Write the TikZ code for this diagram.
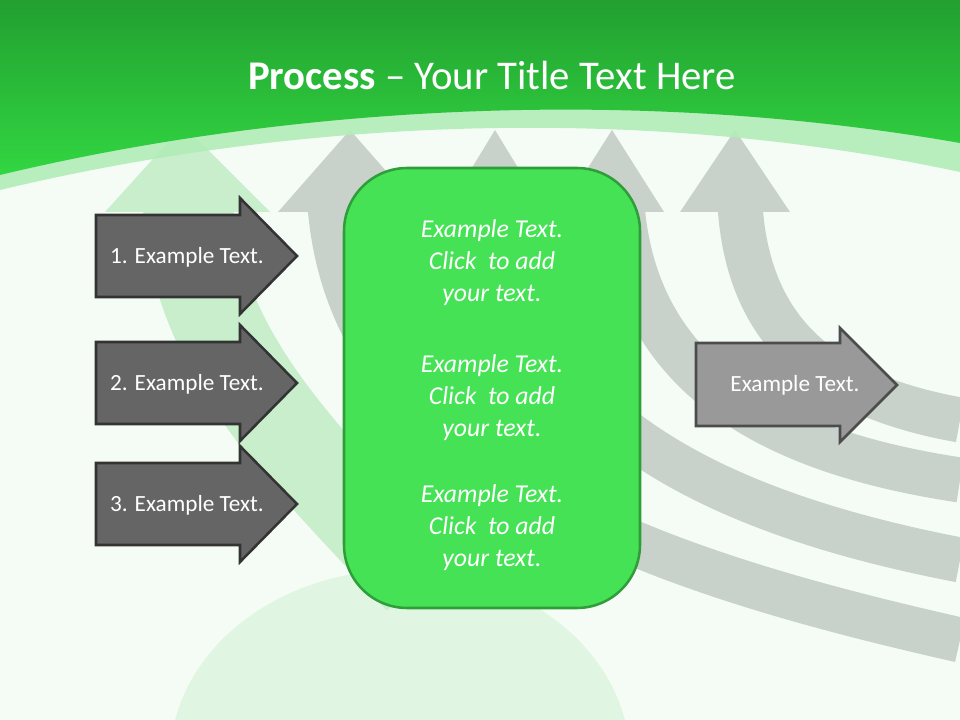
\documentclass[tikz,border=0pt]{standalone}
\usepackage{fontspec}
\setmainfont{Carlito}
\usetikzlibrary{positioning}
\definecolor{topgreen}{RGB}{34,160,48}
\definecolor{midgreen}{RGB}{50,214,66}
\definecolor{bandgreen}{RGB}{178,236,184}
\definecolor{bgwhite}{RGB}{245,252,245}
\definecolor{ghostgreen}{RGB}{200,238,204}
\definecolor{ghostgrey}{RGB}{200,209,202}
\definecolor{boxgreen}{RGB}{70,226,86}
\definecolor{boxedge}{RGB}{47,158,58}
\definecolor{darkstep}{RGB}{101,101,101}
\definecolor{lightstep}{RGB}{153,153,153}

\tikzset{
  stepshape/.style={draw=black!80, line width=1.8pt, fill=darkstep, line join=miter},
  steptext/.style={text=white, anchor=base, font=\fontsize{16.5}{20}\selectfont},
  boxtext/.style={text=white, align=center, font=\fontsize{18.3}{22.8}\selectfont\itshape},
  ghoststem/.style={ghostgrey, line width=32pt},
}

\begin{document}
\begin{tikzpicture}[x=0.025cm, y=-0.025cm]

    \useasboundingbox (0,0) rectangle (960,720);

    % background
    \fill[bgwhite] (0,0) rectangle (960,720);
    \fill[ghostgreen, opacity=0.45] (400,760) ellipse [x radius=230, y radius=190];
    \draw[ghostgreen, line width=64pt] (188,205) .. controls (195,360) and (320,470) .. (420,580);
    \fill[ghostgreen] (105,212) -- (172,138) -- (196,138) -- (270,212) -- cycle;

    \draw[ghoststem] (330,205) .. controls (350,470) and (650,570) .. (960,640);
    \draw[ghoststem] (498,205) .. controls (515,410) and (700,510) .. (960,560);
    \draw[ghoststem] (622,205) .. controls (635,370) and (760,450) .. (960,480);
    \draw[ghoststem] (740,205) .. controls (748,330) and (820,395) .. (960,420);
    \foreach \tipx/\half in {350/72, 495/50, 612/52, 735/55}
        \fill[ghostgrey] (\tipx-\half,212) -- (\tipx,130) -- (\tipx+\half,212) -- cycle;

    \fill[bandgreen, opacity=0.9] (0,0) -- (0,190) .. controls (250,130) and (600,95) .. (960,172) -- (960,0) -- cycle;
    \shade[top color=topgreen, bottom color=midgreen] (0,0) -- (0,175) .. controls (250,115) and (600,80) .. (960,143) -- (960,0) -- cycle;

    \node[text=white, font=\fontsize{29}{34}\selectfont] (title) at (492,75) {\textbf{Process} -- Your Title Text Here};

    % steps on the left
    \foreach \y/\n in {256/1, 383/2, 504/3} {
        \draw[stepshape] (96,\y-41) -- (240,\y-41) -- (240,\y-58) -- (297,\y) -- (240,\y+58) -- (240,\y+41) -- (96,\y+41) -- cycle;
        \node[steptext] (step\n) at (187,\y+8) {\n. Example Text.};
    }

    % middle box
    \node[draw=boxedge, line width=1.8pt, fill=boxgreen, rounded corners=45,
          minimum width=296*0.025cm, minimum height=440*0.025cm] (box) at (492,388) {};
    \node[boxtext] (text1) at (492,263) {Example Text.\\Click\ \ to add\\your text.};
    \node[boxtext] (text2) at (492,398) {Example Text.\\Click\ \ to add\\your text.};
    \node[boxtext] (text3) at (492,528) {Example Text.\\Click\ \ to add\\your text.};

    % result on the right
    \draw[stepshape, fill=lightstep, draw=black!70] (696,343) -- (840,343) -- (840,328) -- (897,385) -- (840,442) -- (840,426) -- (696,426) -- cycle;
    \node[steptext] (result) at (795,392) {Example Text.};

\end{tikzpicture}
\end{document}
